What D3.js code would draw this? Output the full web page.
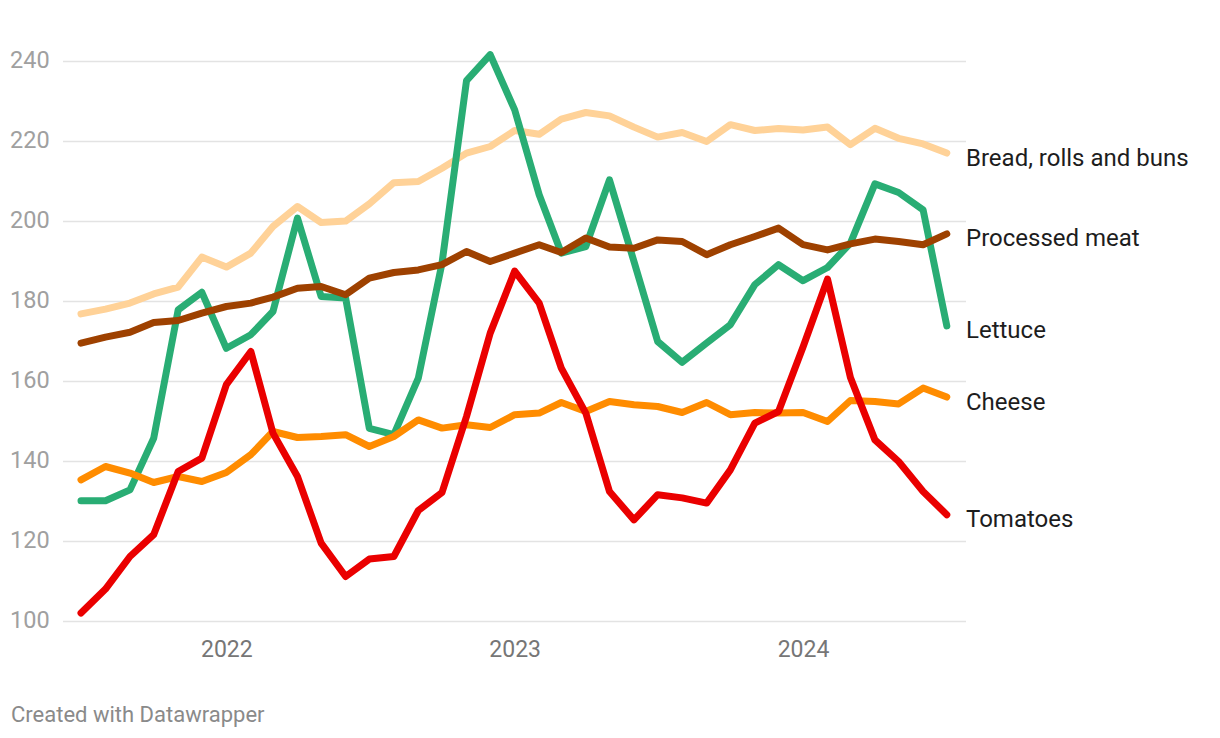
<!DOCTYPE html>
<html>
<head>
<meta charset="utf-8">
<script src="https://cdn.jsdelivr.net/npm/d3@7"></script>
<style>
  html, body { margin: 0; padding: 0; background: #fff; }
  svg { display: block; font-family: Roboto, "Noto Sans", sans-serif; }
</style>
</head>
<body>
<svg id="chart" width="1220" height="738"></svg>
<script>
// ---- data (monthly, July 2021 – July 2024) ----
const startMonth = "2021-07";
const monthCount = 37;

const seriesNames = ["Bread, rolls and buns", "Lettuce", "Processed meat", "Cheese", "Tomatoes"];

const bread = [176.9, 178.1, 179.6, 181.9, 183.6, 191.1, 188.6, 192.1, 198.75, 203.75, 199.75, 200.1, 204.4,
  209.7, 210.0, 213.3, 217.1, 218.75, 222.75, 221.8, 225.6, 227.25, 226.4, 223.6, 221.1, 222.25, 220.0,
  224.2, 222.75, 223.25, 222.9, 223.6, 219.2, 223.3, 220.8, 219.4, 217.1];

const processedMeat = [169.6, 171.1, 172.3, 174.75, 175.25, 177.1, 178.75, 179.6, 181.1, 183.3, 183.75, 181.7,
  185.85, 187.25, 187.9, 189.2, 192.5, 190.0, 192.1, 194.2, 192.25, 195.85, 193.6, 193.3, 195.4, 195.0, 191.7,
  194.2, 196.25, 198.35, 194.2, 192.9, 194.4, 195.6, 195.0, 194.2, 196.9];

const lettuce = [130.2, 130.2, 132.9, 145.8, 177.9, 182.3, 168.3, 171.7, 177.5, 200.85, 181.25, 180.85, 148.3,
  146.7, 160.85, 189.6, 235.2, 241.7, 227.9, 206.7, 192.1, 193.75, 210.4, 190.0, 170.0, 164.8, 169.6, 174.2,
  184.2, 189.2, 185.2, 188.5, 194.6, 209.4, 207.25, 202.9, 173.9];

const cheese = [135.4, 138.75, 137.1, 134.75, 136.25, 135.0, 137.25, 141.7, 147.5, 146.0, 146.25, 146.7, 143.75,
  146.25, 150.4, 148.35, 149.2, 148.5, 151.7, 152.1, 154.75, 152.5, 155.0, 154.2, 153.75, 152.25, 154.75, 151.7,
  152.25, 152.1, 152.25, 150.0, 155.25, 155.0, 154.4, 158.35, 156.1];

const tomatoes = [102.1, 108.1, 116.25, 121.7, 137.5, 140.85, 159.2, 167.5, 147.1, 136.25, 119.6, 111.25, 115.6,
  116.25, 127.75, 132.25, 151.25, 172.1, 187.6, 179.6, 163.35, 152.1, 132.5, 125.4, 131.7, 130.9, 129.6, 137.9,
  149.6, 152.5, 168.6, 185.6, 161.0, 145.4, 140.0, 132.5, 126.7];

const yTicks = [100, 120, 140, 160, 180, 200, 220, 240];
const xTickYears = ["2022", "2023", "2024"];
const creditText = "Created with Datawrapper";

// ---- styles ----
const colors = {
  "Bread, rolls and buns": "#ffd298",
  "Lettuce": "#29ad74",
  "Processed meat": "#9e4100",
  "Cheese": "#ff8c00",
  "Tomatoes": "#ea0000"
};

const seriesValues = {
  "Bread, rolls and buns": bread,
  "Lettuce": lettuce,
  "Processed meat": processedMeat,
  "Cheese": cheese,
  "Tomatoes": tomatoes
};

const parseMonth = d3.timeParse("%Y-%m");
const months = d3.timeMonth.range(parseMonth(startMonth), d3.timeMonth.offset(parseMonth(startMonth), monthCount));

const svg = d3.select("#chart");

const x = d3.scaleTime()
  .domain([months[0], months[months.length - 1]])
  .range([81, 946.8]);

const y = d3.scaleLinear()
  .domain([100, 240])
  .range([621.5, 61.5]);

// gridlines
svg.append("g")
  .selectAll("line")
  .data(yTicks)
  .join("line")
  .attr("x1", 63)
  .attr("x2", 966)
  .attr("y1", d => y(d))
  .attr("y2", d => y(d))
  .attr("stroke", "#e3e3e3")
  .attr("stroke-width", 1.3);

// y labels
svg.append("g")
  .selectAll("text")
  .data(yTicks)
  .join("text")
  .attr("x", 10)
  .attr("y", d => y(d) + 6)
  .attr("font-size", 23.5)
  .attr("fill", "#a0a0a0")
  .text(d => d);

// x axis
const xAxis = d3.axisBottom(x)
  .tickValues(xTickYears.map(s => d3.timeParse("%Y")(s)))
  .tickFormat(d3.timeFormat("%Y"))
  .tickSize(0)
  .tickPadding(0);

const xg = svg.append("g")
  .attr("transform", "translate(0,656.5)")
  .call(xAxis);
xg.select(".domain").remove();
xg.selectAll("text")
  .attr("dy", 0)
  .attr("y", 0)
  .attr("font-size", 23)
  .attr("font-family", "Roboto, sans-serif")
  .attr("fill", "#767676");

// lines
const line = d3.line()
  .x((d, i) => x(months[i]))
  .y(d => y(d));

svg.append("g")
  .selectAll("path")
  .data(seriesNames)
  .join("path")
  .attr("d", name => line(seriesValues[name]))
  .attr("fill", "none")
  .attr("stroke", name => colors[name])
  .attr("stroke-width", 7)
  .attr("stroke-linecap", "round")
  .attr("stroke-linejoin", "round");

// series labels
svg.append("g")
  .selectAll("text")
  .data(seriesNames)
  .join("text")
  .attr("x", 966)
  .attr("y", name => y(seriesValues[name][monthCount - 1]) + 12.5)
  .attr("font-size", 24)
  .attr("fill", "#1d1d1d")
  .text(name => name);

// credit
svg.append("text")
  .attr("x", 11)
  .attr("y", 721.5)
  .attr("font-size", 22)
  .attr("fill", "#8a8a8a")
  .text(creditText);
</script>
</body>
</html>
